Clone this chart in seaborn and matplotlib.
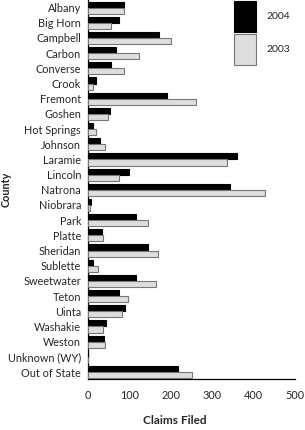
import matplotlib
matplotlib.use("Agg")
import matplotlib.pyplot as plt
import seaborn as sns
import pandas as pd
from matplotlib.patches import Patch

counties = ["Albany", "Big Horn", "Campbell", "Carbon", "Converse", "Crook", "Fremont",
            "Goshen", "Hot Springs", "Johnson", "Laramie", "Lincoln", "Natrona", "Niobrara",
            "Park", "Platte", "Sheridan", "Sublette", "Sweetwater", "Teton", "Uinta",
            "Washakie", "Weston", "Unknown (WY)", "Out of State"]
claims_2004 = [88, 74, 172, 67, 55, 20, 190, 52, 12, 29, 360, 99, 342, 7,
               116, 35, 145, 13, 115, 74, 89, 44, 39, 0, 217]
claims_2003 = [88, 56, 200, 123, 87, 13, 261, 49, 20, 42, 336, 74, 428, 5,
               145, 37, 170, 25, 165, 97, 83, 37, 41, 0, 252]
years = ["2004", "2003"]
xticks = [0, 100, 200, 300, 400, 500]

df = pd.DataFrame({
    "County": counties * 2,
    "Claims": claims_2004 + claims_2003,
    "Year": ["2004"] * len(counties) + ["2003"] * len(counties),
})

sns.set_style("white")
plt.rcParams["font.family"] = ["Lato", "DejaVu Sans"]

fig = plt.figure(figsize=(3.05, 4.30), dpi=100)
ax = fig.add_axes([88 / 305, 1 - 379 / 430, 207 / 305, 379 / 430])

colors = {"2004": "#000000", "2003": "#dddddd"}
edges = {"2004": "#000000", "2003": "#777777"}
sns.barplot(data=df, y="County", x="Claims", hue="Year", hue_order=years,
            palette=colors, orient="h", width=0.8, ax=ax, legend=False,
            linewidth=0.8, errorbar=None)
for cont, yr in zip(ax.containers, years):
    for p in cont:
        p.set_edgecolor(edges[yr])
        p.set_zorder(3)

ax.set_xlim(0, 500)
ax.set_ylim(24.46, -0.5)
ax.set_xticks(xticks)
ax.set_xticklabels([str(t) for t in xticks])
ax.set_axisbelow(True)
ax.tick_params(axis="x", direction="in", length=8, width=0.9, color="black",
               labelsize=7.8, pad=8)
ax.tick_params(axis="y", length=0, labelsize=7.8, pad=5)
for s in ["top", "right"]:
    ax.spines[s].set_visible(False)
for s in ["left", "bottom"]:
    ax.spines[s].set_color("black")
    ax.spines[s].set_linewidth(0.9)

ax.set_xlabel("Claims Filed", fontsize=8.5, fontweight="bold")
ax.xaxis.set_label_coords(0.42, -0.096)
ax.set_ylabel("County", fontsize=7.8, fontweight="bold")
ax.yaxis.set_label_coords(-0.37, 0.50)

handles = [Patch(facecolor=colors[y], edgecolor=edges[y], linewidth=0.8) for y in years]
leg = fig.legend(handles, years, loc="upper left", bbox_to_anchor=(234 / 305, 1 - 1 / 430),
                 frameon=False, fontsize=7.5, handlelength=2.1, handleheight=4.2,
                 labelspacing=0.2, handletextpad=1.0, borderpad=0, borderaxespad=0)

fig.savefig("out.png", dpi=100)
